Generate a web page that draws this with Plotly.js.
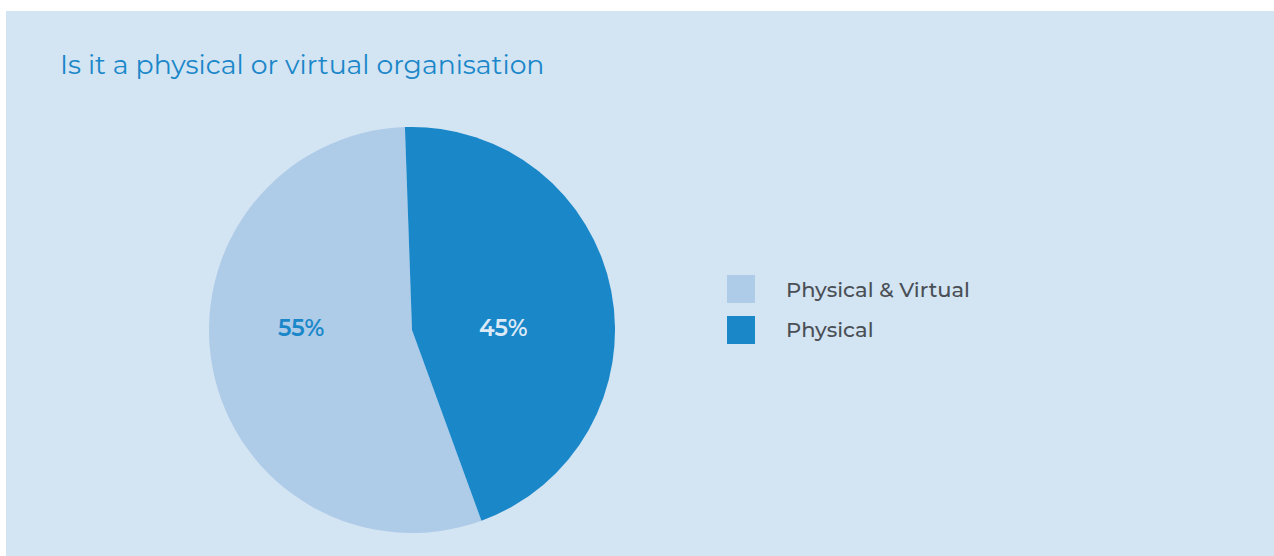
<!DOCTYPE html>
<html>
<head>
<meta charset="utf-8">
<script src="https://cdn.plot.ly/plotly-3.0.1.min.js"></script>
<style>
html,body{margin:0;padding:0;background:#ffffff;width:1274px;height:556px;overflow:hidden;}
#chart{position:absolute;left:6px;top:11px;width:1268px;height:545px;}
</style>
</head>
<body>
<div id="chart"></div>
<script>
const labels = ["Physical & Virtual", "Physical"];
const values = [55, 45];
const colors = ["#aecbe8", "#1a87c9"];
const textColors = ["#1a87c9", "#dce9f6"];
const titleText = "Is it a physical or virtual organisation";

const FONT = "Montserrat, 'Open Sans', 'Noto Sans', sans-serif";

const trace = {
  type: "pie",
  labels: labels,
  values: values,
  sort: false,
  direction: "clockwise",
  rotation: 160,
  marker: {colors: colors, line: {width: 0}},
  textinfo: "none",
  hoverinfo: "label+percent",
  showlegend: false,
  domain: {x: [0.1601, 0.4803], y: [0.0422, 0.7872]}
};

const total = values.reduce((a, b) => a + b, 0);

// percentage labels placed on the centre line of the pie, derived from values
const pctX = [0.2334, 0.3927];
const pctY = 0.4183;
const pctAnnotations = values.map((v, i) => ({
  xref: "paper", yref: "paper",
  x: pctX[i], y: pctY, xanchor: "center", yanchor: "middle",
  text: Math.round(v / total * 100) + "%", showarrow: false,
  font: {family: FONT, size: 23, weight: 600, color: textColors[i]}
}));

// custom legend built from the labels/colors arrays
const legX0 = 0.5686, legX1 = 0.5907, legTextX = 0.6135;
const legTop = 0.5156, legH = 0.0514, legStep = 0.0752;
const shapes = labels.map((l, i) => ({
  type: "rect", xref: "paper", yref: "paper",
  x0: legX0, x1: legX1,
  y0: legTop - i * legStep - legH, y1: legTop - i * legStep,
  fillcolor: colors[i], line: {width: 0}
}));
const legAnnotations = labels.map((l, i) => ({
  xref: "paper", yref: "paper",
  x: legTextX, y: legTop - i * legStep - legH / 2,
  xanchor: "left", yanchor: "middle",
  text: l, showarrow: false,
  font: {family: FONT, size: 21, weight: 500, color: "#4a4f55"}
}));

const layout = {
  width: 1268, height: 545,
  margin: {l: 0, r: 0, t: 0, b: 0},
  paper_bgcolor: "#d3e4f3",
  plot_bgcolor: "#d3e4f3",
  title: {
    text: titleText,
    x: 54 / 1268, xanchor: "left", xref: "paper",
    y: 1 - 54 / 545, yanchor: "middle", yref: "container",
    font: {family: FONT, size: 26.7, color: "#1a87c9"}
  },
  shapes: shapes,
  annotations: pctAnnotations.concat(legAnnotations),
  showlegend: false
};

Plotly.newPlot("chart", [trace], layout, {displayModeBar: false, staticPlot: true});
</script>
</body>
</html>
